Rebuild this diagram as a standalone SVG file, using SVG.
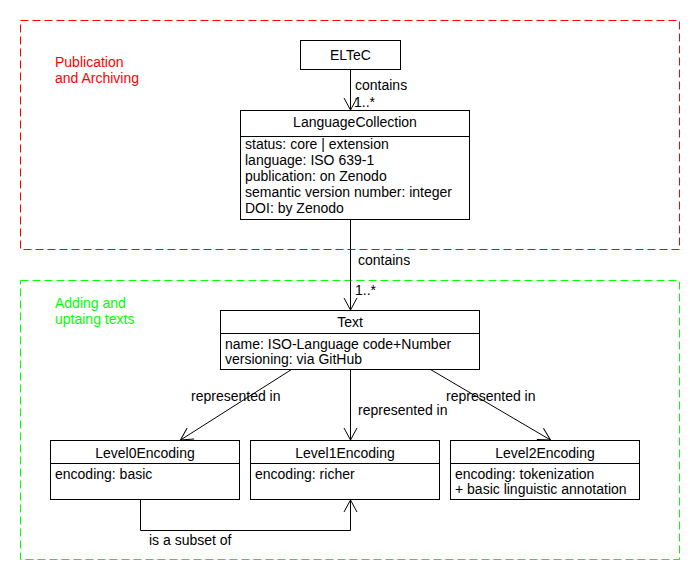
<svg xmlns="http://www.w3.org/2000/svg" width="700" height="580" viewBox="0 0 700 580">
  <style>
    text { font-family: "Liberation Sans", Arial, sans-serif; font-size: 14px; fill: #000; }
    .title { text-anchor: middle; }
    .box { fill: #fff; stroke: #000; stroke-width: 1; }
    .sep { stroke: #000; stroke-width: 1; }
    .edge { fill: none; stroke: #000; stroke-width: 1; }
    .region { fill: none; stroke-width: 1; stroke-dasharray: 8 4; }
  </style>
  <defs>
    <marker id="open" markerUnits="userSpaceOnUse" markerWidth="16" markerHeight="16" refX="0" refY="0" viewBox="-13 -8 15 16" orient="auto" overflow="visible">
      <path d="M-12,-6.5 L0,0 L-12,6.5" fill="none" stroke="#000" stroke-width="1"/>
    </marker>
  </defs>

  <!-- packages -->
  <g id="publication">
    <rect class="region" x="20.5" y="20.5" width="659" height="229" stroke="#ff0000"/>
    <text x="55" y="67" style="fill:#ff0000">Publication</text>
    <text x="55" y="83" style="fill:#ff0000">and Archiving</text>
  </g>
  <g id="adding">
    <rect class="region" x="20.5" y="280.5" width="659" height="279" stroke="#00ff00"/>
    <text x="55" y="308" style="fill:#00ff00">Adding and</text>
    <text x="55" y="324" style="fill:#00ff00">uptaing texts</text>
  </g>

  <!-- connectors -->
  <g id="connectors">
    <line class="edge" x1="350.5" y1="69.5" x2="350.5" y2="110" marker-end="url(#open)"/>
    <text x="355" y="90">contains</text>
    <text x="354" y="107">1..*</text>

    <line class="edge" x1="350.5" y1="219.5" x2="350.5" y2="310" marker-end="url(#open)"/>
    <text x="358" y="265">contains</text>
    <text x="355" y="295">1..*</text>

    <line class="edge" x1="291.5" y1="369.5" x2="180.5" y2="440" marker-end="url(#open)"/>
    <text x="191" y="401">represented in</text>

    <line class="edge" x1="350.5" y1="369.5" x2="350.5" y2="440" marker-end="url(#open)"/>
    <text x="358" y="415">represented in</text>

    <line class="edge" x1="430.5" y1="369.5" x2="550.5" y2="440" marker-end="url(#open)"/>
    <text x="446" y="401">represented in</text>

    <polyline class="edge" points="140.5,499.5 140.5,530.5 350.5,530.5 350.5,500" marker-end="url(#open)"/>
    <text x="149" y="545">is a subset of</text>
  </g>

  <!-- classes -->
  <g id="eltec">
    <rect class="box" x="300.5" y="40.5" width="100" height="29"/>
    <text class="title" x="350.5" y="60">ELTeC</text>
  </g>

  <g id="languagecollection">
    <rect class="box" x="240.5" y="110.5" width="229" height="109"/>
    <line class="sep" x1="240.5" y1="136.5" x2="469.5" y2="136.5"/>
    <text class="title" x="355" y="127">LanguageCollection</text>
    <text x="245" y="149">status: core | extension</text>
    <text x="245" y="165">language: ISO 639-1</text>
    <text x="245" y="181">publication: on Zenodo</text>
    <text x="245" y="197">semantic version number: integer</text>
    <text x="245" y="213">DOI: by Zenodo</text>
  </g>

  <g id="text">
    <rect class="box" x="220.5" y="310.5" width="259" height="59"/>
    <line class="sep" x1="220.5" y1="333.5" x2="479.5" y2="333.5"/>
    <text class="title" x="350" y="327">Text</text>
    <text x="225" y="349">name: ISO-Language code+Number</text>
    <text x="225" y="364">versioning: via GitHub</text>
  </g>

  <g id="level0">
    <rect class="box" x="50.5" y="440.5" width="189" height="59"/>
    <line class="sep" x1="50.5" y1="463.5" x2="239.5" y2="463.5"/>
    <text class="title" x="145" y="458">Level0Encoding</text>
    <text x="55" y="479">encoding: basic</text>
  </g>

  <g id="level1">
    <rect class="box" x="250.5" y="440.5" width="189" height="59"/>
    <line class="sep" x1="250.5" y1="463.5" x2="439.5" y2="463.5"/>
    <text class="title" x="345" y="458">Level1Encoding</text>
    <text x="255" y="479">encoding: richer</text>
  </g>

  <g id="level2">
    <rect class="box" x="450.5" y="440.5" width="189" height="59"/>
    <line class="sep" x1="450.5" y1="463.5" x2="639.5" y2="463.5"/>
    <text class="title" x="545" y="458">Level2Encoding</text>
    <text x="455" y="479">encoding: tokenization</text>
    <text x="455" y="494">+ basic linguistic annotation</text>
  </g>
</svg>
